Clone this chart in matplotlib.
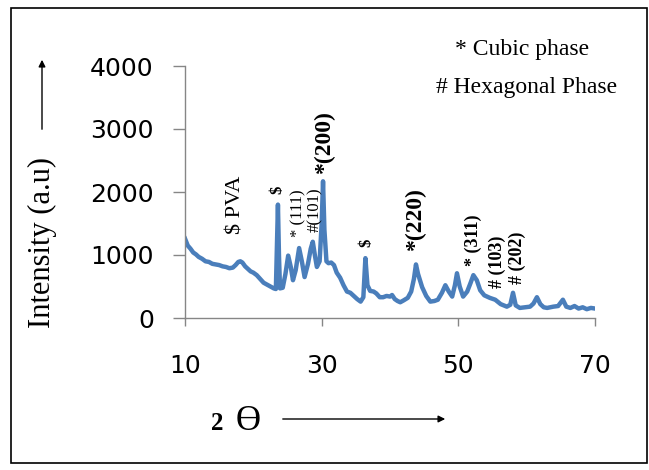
import matplotlib
matplotlib.use("Agg")
import matplotlib.pyplot as plt
from matplotlib.patches import Rectangle

# XRD pattern
two_theta = [10.0, 10.4, 10.8, 11.2, 11.6, 12.0, 12.5, 13.0, 13.5, 14.0, 14.5, 15.0,
             15.5, 16.0, 16.5, 17.0, 17.4, 17.8, 18.1, 18.4, 18.8, 19.2, 19.6, 20.0,
             20.5, 21.0, 21.5, 22.0, 22.5, 23.0, 23.3, 23.45, 23.6, 23.75, 23.9, 24.3,
             24.7, 25.1, 25.5, 25.8, 26.2, 26.7, 27.1, 27.5, 28.0, 28.4, 28.7, 29.0,
             29.3, 29.7, 30.0, 30.2, 30.4, 30.7, 31.0, 31.4, 31.8, 32.2, 32.7, 33.2,
             33.7, 34.2, 34.7, 35.2, 35.7, 36.1, 36.4, 36.7, 37.1, 37.6, 38.0, 38.5,
             39.0, 39.5, 40.0, 40.3, 40.7, 41.1, 41.5, 42.0, 42.6, 43.1, 43.5, 43.8,
             44.1, 44.7, 45.3, 45.9, 46.5, 47.0, 47.6, 48.1, 48.6, 49.1, 49.5, 49.8,
             50.2, 50.7, 51.3, 51.8, 52.2, 52.7, 53.2, 53.8, 54.6, 55.4, 56.2, 57.1,
             57.6, 58.0, 58.4, 59.0, 59.7, 60.5, 61.0, 61.5, 62.0, 62.5, 63.0, 63.9,
             64.6, 65.3, 65.8, 66.4, 67.0, 67.6, 68.2, 68.8, 69.4, 70.0]
intensity = [1260, 1150, 1100, 1040, 1010, 970, 940, 900, 890, 860, 850, 840,
             820, 810, 790, 800, 840, 890, 900, 880, 820, 780, 740, 720,
             680, 620, 560, 530, 500, 470, 460, 1100, 1800, 1000, 470, 480,
             700, 990, 800, 600, 760, 1110, 900, 650, 860, 1100, 1210, 1000,
             810, 900, 1500, 2170, 1400, 900, 870, 880, 840, 720, 640, 520,
             420, 400, 350, 300, 260, 330, 950, 520, 430, 420, 390, 330,
             330, 350, 340, 365, 300, 270, 250, 280, 320, 420, 620, 850,
             700, 490, 350, 260, 270, 290, 400, 520, 420, 340, 520, 710,
             500, 340, 420, 560, 680, 600, 440, 360, 320, 290, 220, 180,
             210, 400, 200, 160, 170, 180, 230, 330, 220, 170, 160, 180,
             190, 290, 180, 160, 190, 150, 170, 140, 160, 150]

# peak labels
peak_text = ["$ PVA", "$", "* (111)", "#(101)", "*(200)", "$", "*(220)",
             "* (311)", "# (103)", "# (202)"]
peak_x = [17.4, 23.5, 26.6, 29.1, 30.4, 36.5, 43.8, 52.2, 55.7, 58.7]
peak_y = [1790, 2030, 1670, 1720, 2780, 1190, 1570, 1230, 890, 950]
peak_size = [16, 12, 12, 12, 17, 12, 17, 13, 13, 13]
peak_bold = [False, True, False, False, True, True, True, True, True, True]

yticks = [0, 1000, 2000, 3000, 4000]
xticks = [10, 30, 50, 70]

fig = plt.figure(figsize=(6.49, 4.70), dpi=100)
ax = fig.add_axes([185/649, 1-318/470, 410/649, 252/470])

ax.plot(two_theta, intensity, color="#4a7ebb", lw=3.2, solid_joinstyle="round")
ax.set_xlim(10, 70)
ax.set_ylim(0, 4000)
ax.set_xticks(xticks)
ax.set_yticks(yticks)

for s in ["top", "right"]:
    ax.spines[s].set_visible(False)
for s in ["left", "bottom"]:
    ax.spines[s].set_color("#868686")
    ax.spines[s].set_linewidth(1)

ax.tick_params(axis="y", length=8.5, width=1, color="#868686", pad=14,
               labelsize=18)
ax.tick_params(axis="x", length=6, width=1, color="#868686", pad=20,
               labelsize=18)

for t, x, y, fs, b in zip(peak_text, peak_x, peak_y, peak_size, peak_bold):
    ax.text(x, y, t, rotation=90, ha="center", va="center", fontsize=fs,
            family="Liberation Serif", fontweight="bold" if b else "normal",
            clip_on=False)

# legend-like notes
fig.text(522/649, 1-50/470, "* Cubic phase", ha="center", va="center",
         family="Liberation Serif", fontsize=17)
fig.text(527/649, 1-88/470, "# Hexagonal Phase", ha="center", va="center",
         family="Liberation Serif", fontsize=17)

# axis titles with arrows
fig.text(42/649, 1-242/470, "Intensity (a.u)", rotation=90, ha="center",
         va="center", family="Liberation Serif", fontsize=22)
ax.annotate("", xy=(42/649, 1-57/470), xytext=(42/649, 1-132/470),
            xycoords="figure fraction", textcoords="figure fraction",
            arrowprops=dict(arrowstyle="-|>", lw=1, color="black",
                            mutation_scale=10))

fig.text(217/649, 1-423/470, "2", ha="center", va="center",
         family="Liberation Serif", fontweight="bold", fontsize=18)
fig.text(248/649, 1-421/470, "Ɵ", ha="center", va="center",
         family=["Liberation Serif", "DejaVu Serif"], fontsize=25)
ax.annotate("", xy=(448/649, 1-419/470), xytext=(280/649, 1-419/470),
            xycoords="figure fraction", textcoords="figure fraction",
            arrowprops=dict(arrowstyle="-|>", lw=1, color="black",
                            mutation_scale=10))

# outer frame
fig.patches.append(Rectangle((11/649, 1-463/470), 636/649, 455/470,
                             transform=fig.transFigure, fill=False,
                             edgecolor="black", lw=1.2))

fig.savefig("out.png", dpi=100)
